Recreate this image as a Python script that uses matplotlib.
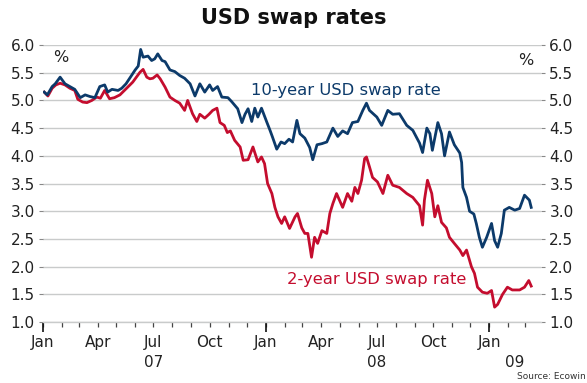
import pandas as pd
import matplotlib
matplotlib.use('Agg')
import matplotlib.pyplot as plt
import matplotlib.transforms as mtransforms

# 10-year USD swap rate
swap10_dates = [
    '2007-01-03', '2007-01-08', '2007-01-16', '2007-01-21', '2007-01-29', '2007-02-06',
    '2007-02-14', '2007-02-22', '2007-03-03', '2007-03-11', '2007-03-19', '2007-03-27',
    '2007-04-04', '2007-04-12', '2007-04-17', '2007-04-24', '2007-05-04', '2007-05-10',
    '2007-05-17', '2007-05-23', '2007-06-01', '2007-06-06', '2007-06-10', '2007-06-14',
    '2007-06-22', '2007-06-28', '2007-07-03', '2007-07-08', '2007-07-15', '2007-07-20',
    '2007-07-28', '2007-08-05', '2007-08-13', '2007-08-21', '2007-08-30', '2007-09-07',
    '2007-09-15', '2007-09-23', '2007-10-01', '2007-10-06', '2007-10-14', '2007-10-21',
    '2007-10-31', '2007-11-06', '2007-11-16', '2007-11-23', '2007-11-28', '2007-12-03',
    '2007-12-09', '2007-12-14', '2007-12-19', '2007-12-25', '2008-01-03', '2008-01-08',
    '2008-01-12', '2008-01-19', '2008-01-26', '2008-02-01', '2008-02-08', '2008-02-14',
    '2008-02-21', '2008-02-26', '2008-03-05', '2008-03-13', '2008-03-18', '2008-03-25',
    '2008-04-02', '2008-04-10', '2008-04-20', '2008-04-28', '2008-05-06', '2008-05-14',
    '2008-05-22', '2008-05-31', '2008-06-08', '2008-06-14', '2008-06-19', '2008-06-26',
    '2008-07-01', '2008-07-09', '2008-07-19', '2008-07-27', '2008-08-07', '2008-08-19',
    '2008-08-29', '2008-09-09', '2008-09-14', '2008-09-21', '2008-09-26', '2008-09-30',
    '2008-10-09', '2008-10-15', '2008-10-20', '2008-10-28', '2008-11-05', '2008-11-14',
    '2008-11-17', '2008-11-19', '2008-11-25', '2008-11-30', '2008-12-07', '2008-12-11',
    '2008-12-16', '2008-12-21', '2008-12-28', '2009-01-05', '2009-01-10', '2009-01-15',
    '2009-01-21', '2009-01-26', '2009-02-03', '2009-02-12', '2009-02-20', '2009-02-28',
    '2009-03-08', '2009-03-11',
]
swap10_vals = [
    5.15, 5.10, 5.25, 5.30, 5.42, 5.30,
    5.25, 5.20, 5.05, 5.10, 5.07, 5.05,
    5.25, 5.28, 5.15, 5.20, 5.18, 5.22,
    5.30, 5.40, 5.55, 5.62, 5.92, 5.78,
    5.80, 5.72, 5.75, 5.84, 5.72, 5.70,
    5.55, 5.52, 5.45, 5.40, 5.30, 5.08,
    5.30, 5.15, 5.28, 5.18, 5.25, 5.06,
    5.05, 4.98, 4.85, 4.60, 4.75, 4.85,
    4.62, 4.86, 4.70, 4.86, 4.60, 4.46,
    4.34, 4.12, 4.25, 4.22, 4.30, 4.25,
    4.64, 4.40, 4.32, 4.15, 3.93, 4.20,
    4.22, 4.25, 4.50, 4.35, 4.45, 4.40,
    4.60, 4.62, 4.82, 4.95, 4.82, 4.75,
    4.70, 4.55, 4.82, 4.75, 4.76, 4.55,
    4.46, 4.23, 4.06, 4.50, 4.40, 4.10,
    4.60, 4.40, 4.00, 4.43, 4.20, 4.05,
    3.88, 3.43, 3.25, 3.00, 2.95, 2.78,
    2.53, 2.35, 2.53, 2.78, 2.47, 2.35,
    2.60, 3.02, 3.07, 3.02, 3.05, 3.29,
    3.20, 3.07,
]

# 2-year USD swap rate
swap2_dates = [
    '2007-01-03', '2007-01-09', '2007-01-16', '2007-01-22', '2007-01-29', '2007-02-06',
    '2007-02-14', '2007-02-22', '2007-02-27', '2007-03-07', '2007-03-14', '2007-03-22',
    '2007-03-30', '2007-04-05', '2007-04-12', '2007-04-20', '2007-04-28', '2007-05-07',
    '2007-05-18', '2007-05-28', '2007-06-09', '2007-06-14', '2007-06-20', '2007-06-25',
    '2007-06-30', '2007-07-07', '2007-07-12', '2007-07-20', '2007-07-28', '2007-08-05',
    '2007-08-13', '2007-08-21', '2007-08-26', '2007-09-03', '2007-09-10', '2007-09-15',
    '2007-09-23', '2007-09-30', '2007-10-06', '2007-10-13', '2007-10-18', '2007-10-25',
    '2007-10-30', '2007-11-04', '2007-11-11', '2007-11-20', '2007-11-25', '2007-12-03',
    '2007-12-11', '2007-12-19', '2007-12-25', '2007-12-30', '2008-01-04', '2008-01-11',
    '2008-01-16', '2008-01-21', '2008-01-27', '2008-02-01', '2008-02-09', '2008-02-18',
    '2008-02-22', '2008-02-29', '2008-03-05', '2008-03-10', '2008-03-16', '2008-03-21',
    '2008-03-26', '2008-04-02', '2008-04-10', '2008-04-15', '2008-04-20', '2008-04-26',
    '2008-05-06', '2008-05-14', '2008-05-21', '2008-05-26', '2008-05-31', '2008-06-06',
    '2008-06-11', '2008-06-14', '2008-06-19', '2008-06-24', '2008-07-02', '2008-07-11',
    '2008-07-19', '2008-07-27', '2008-08-07', '2008-08-19', '2008-08-29', '2008-09-09',
    '2008-09-14', '2008-09-17', '2008-09-22', '2008-09-29', '2008-10-04', '2008-10-09',
    '2008-10-15', '2008-10-23', '2008-10-28', '2008-11-05', '2008-11-14', '2008-11-19',
    '2008-11-25', '2008-12-03', '2008-12-08', '2008-12-13', '2008-12-21', '2008-12-29',
    '2009-01-05', '2009-01-10', '2009-01-15', '2009-01-23', '2009-01-31', '2009-02-08',
    '2009-02-20', '2009-02-28', '2009-03-07', '2009-03-11',
]
swap2_vals = [
    5.15, 5.08, 5.22, 5.28, 5.31, 5.28,
    5.22, 5.18, 5.02, 4.97, 4.96, 5.00,
    5.06, 5.04, 5.18, 5.03, 5.05, 5.10,
    5.22, 5.33, 5.51, 5.56, 5.42, 5.39,
    5.40, 5.46, 5.39, 5.24, 5.06, 5.00,
    4.95, 4.82, 5.00, 4.76, 4.62, 4.75,
    4.68, 4.75, 4.82, 4.86, 4.60, 4.55,
    4.42, 4.45, 4.28, 4.16, 3.92, 3.93,
    4.16, 3.89, 3.98, 3.86, 3.50, 3.32,
    3.07, 2.90, 2.78, 2.90, 2.69, 2.90,
    2.96, 2.70, 2.60, 2.60, 2.17, 2.53,
    2.42, 2.65, 2.60, 2.96, 3.14, 3.32,
    3.07, 3.32, 3.18, 3.43, 3.32, 3.56,
    3.95, 3.98, 3.80, 3.61, 3.53, 3.32,
    3.65, 3.47, 3.43, 3.32, 3.25, 3.10,
    2.75, 3.20, 3.56, 3.32, 2.90, 3.10,
    2.80, 2.70, 2.53, 2.42, 2.30, 2.20,
    2.30, 2.00, 1.88, 1.63, 1.54, 1.52,
    1.57, 1.27, 1.32, 1.50, 1.63, 1.58,
    1.58, 1.63, 1.75, 1.65,
]

yticks = [1.0, 1.5, 2.0, 2.5, 3.0, 3.5, 4.0, 4.5, 5.0, 5.5, 6.0]
year_labels = {'07': '2007-07-01', '08': '2008-07-01', '09': '2009-02-12'}

BLUE = '#0c3a6a'
RED = '#c40d2e'
GRID = '#c9cbcb'
TXT = '#222222'

plt.rcParams['font.family'] = ['DejaVu Sans']

fig = plt.figure(figsize=(5.87, 3.83), dpi=100)
ax = fig.add_axes([0.0733, 0.159, 0.8483, 0.7235])

d10 = pd.to_datetime(swap10_dates)
d2 = pd.to_datetime(swap2_dates)
ax.plot(d2, swap2_vals, color=RED, lw=2.0, solid_joinstyle='round')
ax.plot(d10, swap10_vals, color=BLUE, lw=2.0, solid_joinstyle='round')

ax.set_xlim(pd.Timestamp('2007-01-01'), pd.Timestamp('2009-03-27'))
ax.set_ylim(1.0, 6.0)

# grid + spines
ax.set_yticks(yticks)
ax.yaxis.grid(True, color=GRID, lw=1.0)
ax.set_axisbelow(True)
for s in ['top', 'left', 'right']:
    ax.spines[s].set_visible(False)
ax.spines['bottom'].set_color(GRID)
ax.spines['bottom'].set_linewidth(1.0)

ax.tick_params(axis='y', which='both', direction='out', length=3, width=0.8,
               color='#888888', labelsize=11, labelcolor=TXT, pad=3,
               left=True, right=True, labelleft=True, labelright=True)
ax.yaxis.set_major_formatter(matplotlib.ticker.FormatStrFormatter('%.1f'))

# x ticks: monthly small ticks, January long ticks
months = pd.date_range('2007-01-01', '2009-03-01', freq='MS')
ax.set_xticks(months)
ax.set_xticklabels([m.strftime('%b') if m.month in (1, 4, 7, 10) else '' for m in months])
jans = pd.to_datetime(['2007-01-01', '2008-01-01', '2009-01-01'])
ax.xaxis.remove_overlapping_locs = False
ax.set_xticks(jans, minor=True)
ax.tick_params(axis='x', which='major', direction='out', length=3.5, width=0.9,
               color='#444444', labelsize=11, labelcolor=TXT, pad=6)
ax.tick_params(axis='x', which='minor', direction='out', length=7, width=1.2,
               color='#111111')

trans = mtransforms.blended_transform_factory(ax.transData, ax.transAxes)
for lab, dt in year_labels.items():
    ax.text(pd.Timestamp(dt), -0.118, lab, transform=trans, ha='center', va='top',
            fontsize=11, color=TXT)

# annotations
ax.text(pd.Timestamp('2007-12-07'), 5.18, '10-year USD swap rate', color=BLUE,
        fontsize=11.8, ha='left', va='center')
ax.text(pd.Timestamp('2008-02-05'), 1.76, '2-year USD swap rate', color=RED,
        fontsize=11.8, ha='left', va='center')
ax.text(0.02, 0.955, '%', transform=ax.transAxes, fontsize=11.5, color=TXT,
        ha='left', va='center')
ax.text(0.985, 0.945, '%', transform=ax.transAxes, fontsize=11.5, color=TXT,
        ha='right', va='center')

fig.text(0.5, 0.953, 'USD swap rates', ha='center', va='center', fontsize=15,
         fontweight='bold', color='#111111')
fig.text(0.881, 0.018, 'Source: Ecowin', ha='left', va='center', fontsize=6.5,
         color='#333333')

fig.savefig('out.png', dpi=100)
